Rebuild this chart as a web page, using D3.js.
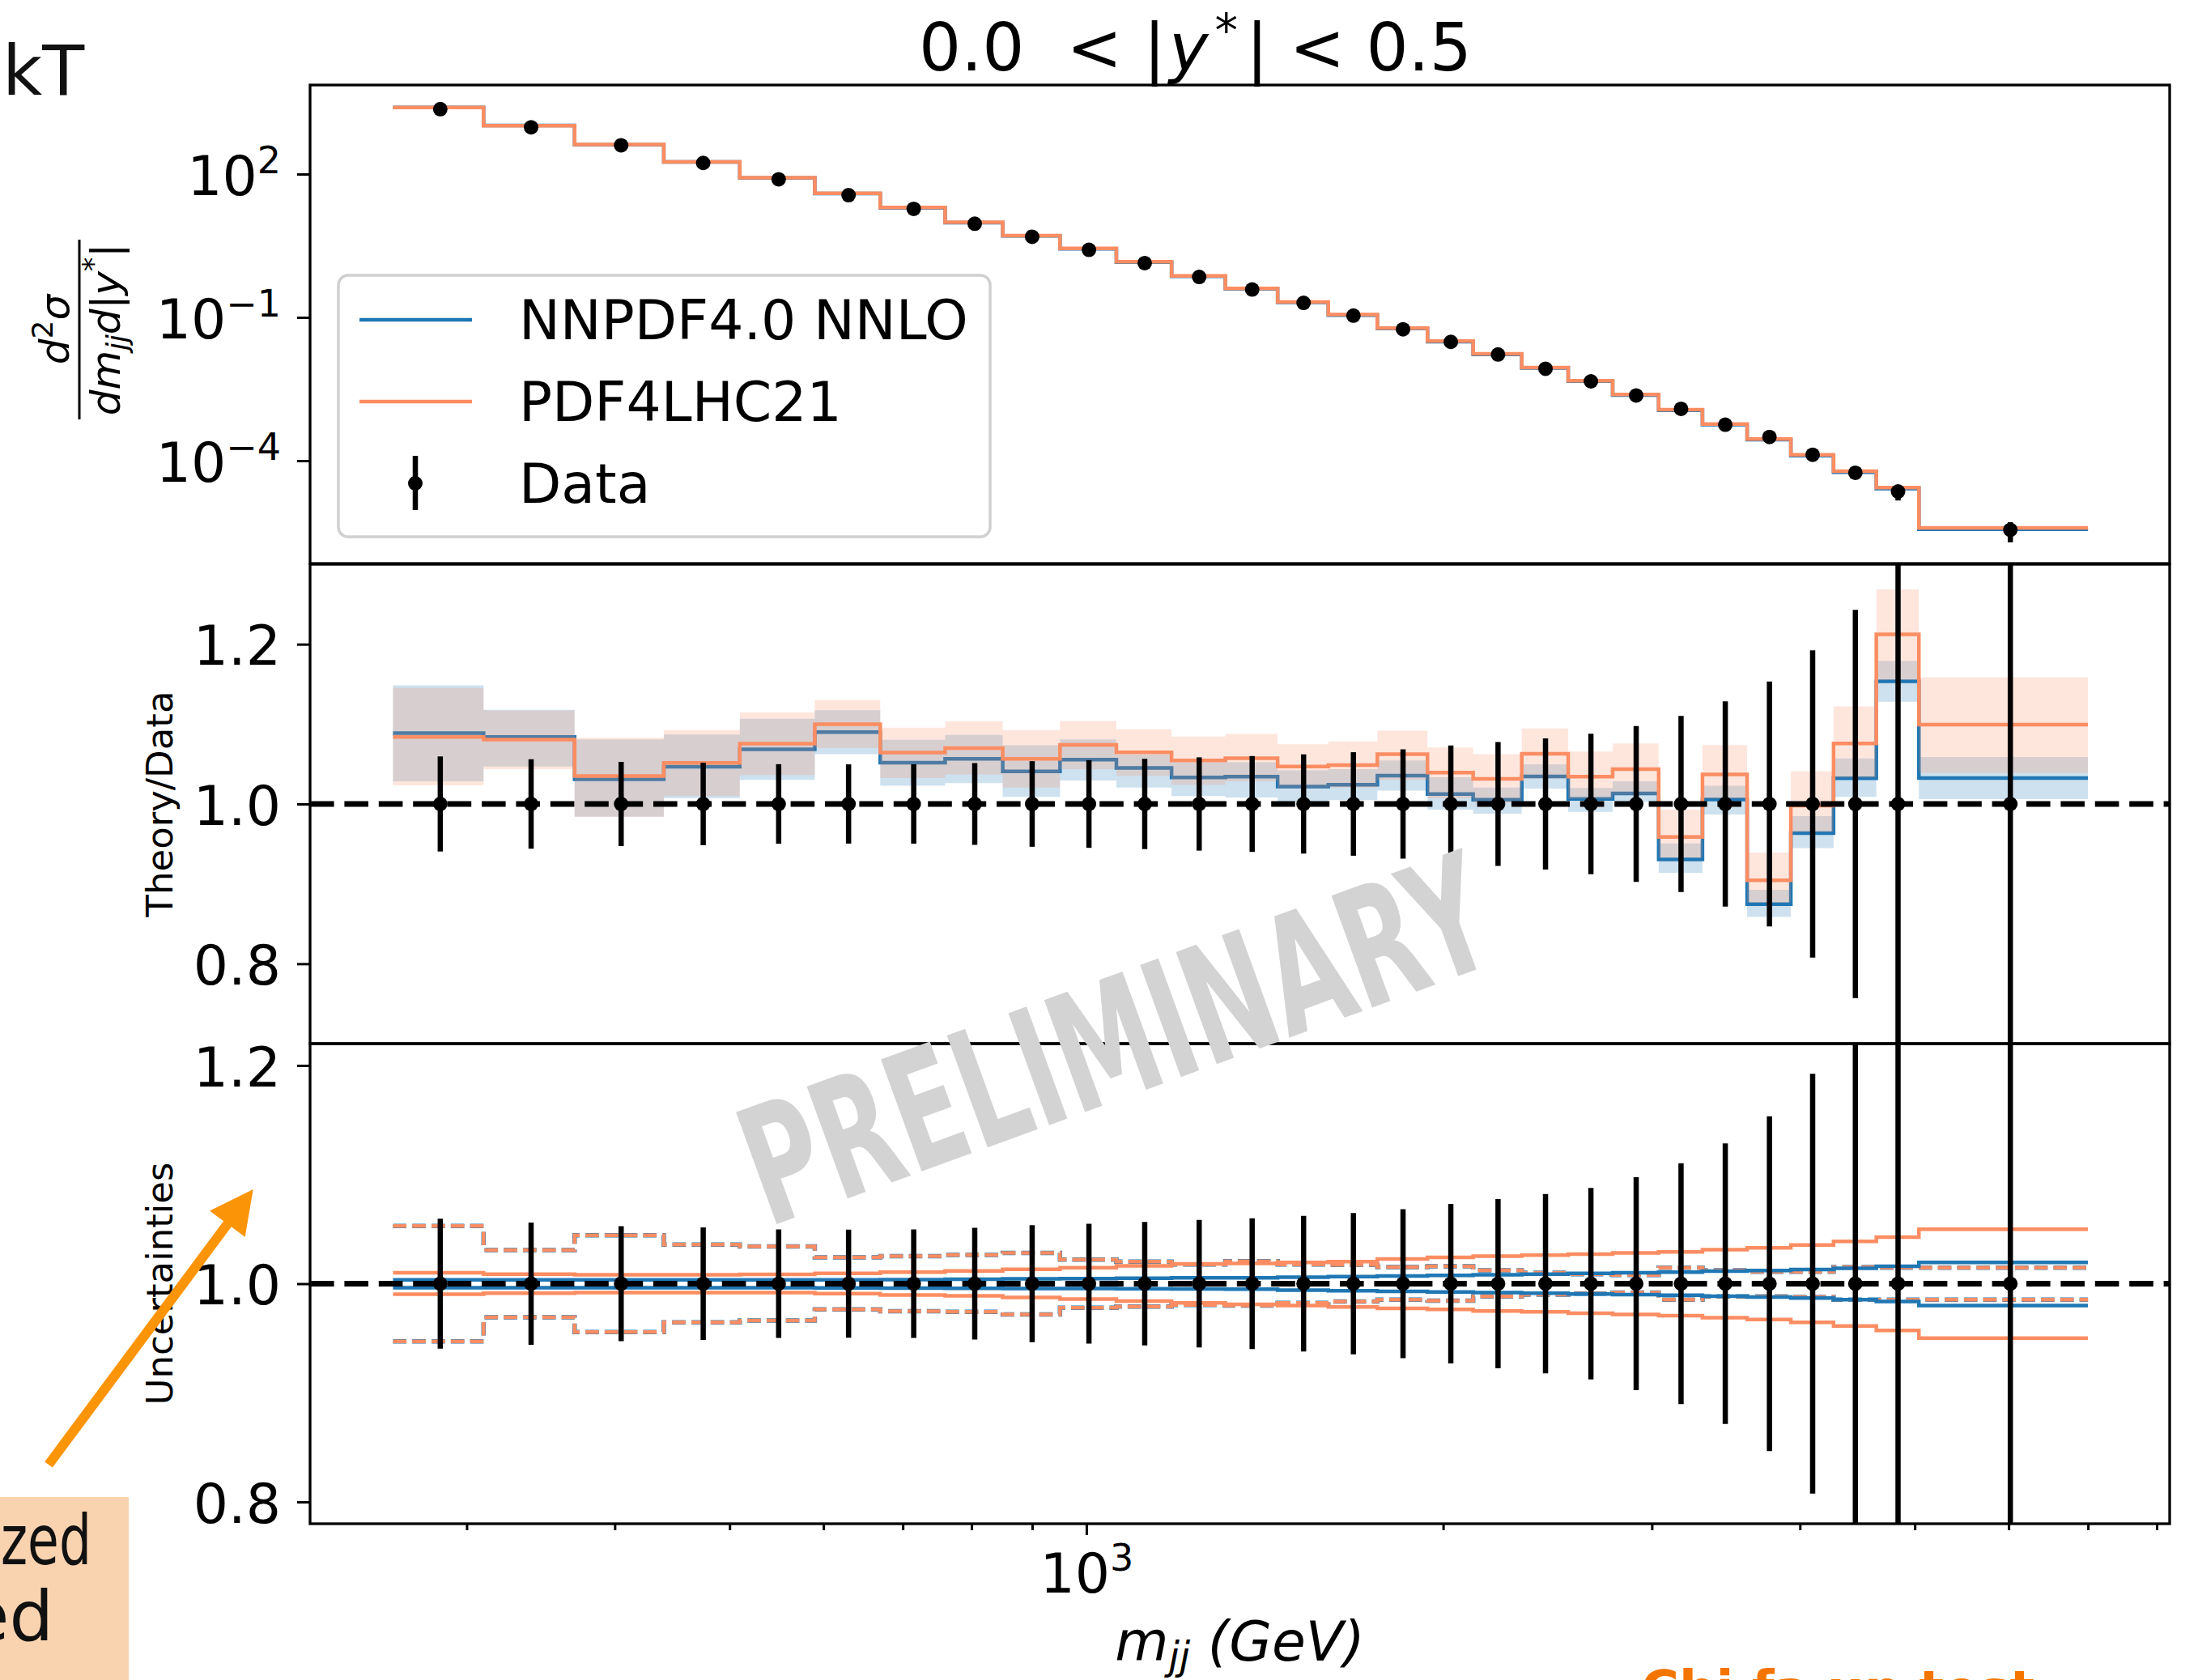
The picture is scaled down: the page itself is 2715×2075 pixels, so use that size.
<!DOCTYPE html>
<html>
<head>
<meta charset="utf-8">
<script src="https://cdn.jsdelivr.net/npm/d3@7"></script>
<style>
  body { margin: 0; background: #fff; }
  svg { display: block; }
  text { font-family: 'DejaVu Sans', sans-serif; }
</style>
</head>
<body>
<svg id="chart"></svg>
<script>
const W = 2715, H = 2075
const BLUE = '#1f77b4', ORANGE = '#fc8d62'

// m_jj bins (GeV), 0.0 < |y*| < 0.5
const mjjEdges = [260, 310, 370, 440, 510, 590, 670, 760, 850, 950, 1060, 1180, 1310, 1450,
  1600, 1760, 1940, 2120, 2330, 2550, 2780, 3040, 3310, 3610, 3930, 4270, 4640, 5040, 7000]
const mjjCenters = [285, 340, 405, 475, 550, 630, 715, 805, 900, 1005, 1120, 1245, 1380, 1525,
  1680, 1850, 2030, 2225, 2440, 2665, 2910, 3175, 3460, 3770, 4100, 4455, 4840, 6020]

// measured cross section and its relative uncertainty
const dataXsec = [2286, 957, 400, 171, 77.8, 36.1, 18.7, 9.14, 4.88, 2.60, 1.37, 0.703, 0.383, 0.201,
  0.109, 0.0564, 0.0307, 0.0167, 0.00841, 0.00458, 0.00232, 0.00122, 0.000566, 0.000314,
  0.000133, 5.58e-5, 2.26e-5, 3.56e-6]
const dataRelErr = [0.0595, 0.056, 0.0527, 0.0516, 0.0498, 0.0496, 0.0497, 0.0512, 0.0536, 0.0549,
  0.0565, 0.0584, 0.060, 0.0621, 0.0648, 0.0683, 0.0731, 0.0775, 0.0822, 0.0878, 0.0976, 0.1103,
  0.1285, 0.1534, 0.1924, 0.243, 0.35, 0.45]

// theory / data
const nnpdfRatio = [1.0887, 1.0839, 1.0308, 1.0467, 1.0684, 1.09, 1.0518, 1.0565, 1.0409, 1.0555,
  1.045, 1.0332, 1.0342, 1.0217, 1.024, 1.0355, 1.0125, 1.0054, 1.0345, 1.0064, 1.0132, 0.9307,
  1.0056, 0.8745, 0.9635, 1.0321, 1.1535, 1.0325]
const nnpdfBandLo = [1.0284, 1.047, 0.9841, 1.0074, 1.0301, 1.0623, 1.0227, 1.0261, 1.0088, 1.0294,
  1.0206, 1.0098, 1.0081, 1.003, 1.0047, 1.0166, 0.9929, 0.9878, 1.0193, 0.9902, 1.003, 0.9138,
  0.9868, 0.8585, 0.9447, 1.0088, 1.1279, 1.006]
const nnpdfBandHi = [1.1486, 1.1178, 1.0809, 1.087, 1.1066, 1.1174, 1.0802, 1.0863, 1.0734, 1.0809,
  1.0619, 1.0521, 1.0521, 1.042, 1.0437, 1.0545, 1.0335, 1.0206, 1.0497, 1.02, 1.0284, 0.9507,
  1.0228, 0.8926, 0.9848, 1.0569, 1.1792, 1.0589]
const pdf4lhcRatio = [1.0838, 1.0805, 1.0349, 1.0514, 1.0755, 1.0998, 1.0643, 1.07, 1.0565, 1.0741,
  1.0646, 1.0545, 1.0572, 1.047, 1.0487, 1.0623, 1.0393, 1.0315, 1.0629, 1.0342, 1.0437, 0.9587,
  1.0369, 0.9046, 0.998, 1.0758, 1.2124, 1.0994]
const pdf4lhcBandLo = [1.0233, 1.0437, 0.9841, 1.0098, 1.0362, 1.07, 1.0325, 1.0369, 1.0206, 1.0437,
  1.0352, 1.024, 1.0284, 1.02, 1.0206, 1.0301, 1.0071, 1.0014, 1.0318, 1.0064, 1.0115, 0.9327,
  1.0068, 0.8766, 0.9647, 1.0329, 1.1551, 1.0389]
const pdf4lhcBandHi = [1.1452, 1.1171, 1.0829, 1.0924, 1.1147, 1.13, 1.0954, 1.1036, 1.0924, 1.1039,
  1.0934, 1.0843, 1.0876, 1.0748, 1.0782, 1.0917, 1.0707, 1.0623, 1.0944, 1.0657, 1.0758, 0.9928,
  1.0737, 0.9391, 1.0409, 1.1222, 1.2685, 1.1587]

// uncertainties panel
const nnpdfUncUp = [1.0035, 1.0035, 1.0035, 1.0035, 1.0035, 1.0035, 1.0038, 1.0041, 1.0044, 1.0047,
  1.005, 1.0053, 1.0053, 1.0059, 1.0065, 1.007, 1.0076, 1.0082, 1.0088, 1.0094, 1.01, 1.0106,
  1.0115, 1.012, 1.0129, 1.0141, 1.0159, 1.0194]
const nnpdfUncDn = [0.9962, 0.9962, 0.9962, 0.9962, 0.9962, 0.9961, 0.996, 0.9958, 0.9956, 0.9955,
  0.9953, 0.9951, 0.995, 0.9941, 0.9935, 0.993, 0.9924, 0.9918, 0.9912, 0.9906, 0.99, 0.9894,
  0.9885, 0.9877, 0.9868, 0.9853, 0.9836, 0.98]
const pdf4lhcUncUp = [1.010, 1.0088, 1.0082, 1.0082, 1.0085, 1.0094, 1.0106, 1.0117, 1.0132, 1.0147,
  1.0164, 1.0182, 1.0185, 1.0194, 1.0203, 1.0226, 1.0241, 1.0253, 1.0261, 1.027, 1.0282, 1.0291,
  1.0311, 1.0329, 1.0355, 1.0388, 1.0426, 1.0499]
const pdf4lhcUncDn = [0.9903, 0.9912, 0.9918, 0.9918, 0.9918, 0.9909, 0.9897, 0.9888, 0.9874, 0.9859,
  0.9841, 0.9824, 0.981, 0.98, 0.9786, 0.9774, 0.9765, 0.975, 0.9742, 0.973, 0.9718, 0.9706,
  0.9689, 0.9671, 0.9645, 0.9612, 0.9571, 0.9501]
const scaleUncUp = [1.0529, 1.0308, 1.0443, 1.0358, 1.0341, 1.0241, 1.0253, 1.0264, 1.0282, 1.022,
  1.0203, 1.0176, 1.0205, 1.0176, 1.0173, 1.0153, 1.0159, 1.0123, 1.01, 1.0088, 1.0079, 1.0147,
  1.0123, 1.0109, 1.0109, 1.0153, 1.0147, 1.0147]
const scaleUncDn = [0.9471, 0.9692, 0.9557, 0.9645, 0.9662, 0.9765, 0.9747, 0.9742, 0.9718, 0.978,
  0.9791, 0.9806, 0.98, 0.9824, 0.9836, 0.9853, 0.9844, 0.9883, 0.99, 0.9909, 0.9918, 0.9853,
  0.9883, 0.9883, 0.9877, 0.9853, 0.9853, 0.9853]

const topTicks = [1e2, 1e-1, 1e-4]
const ratioTicks = [0.8, 1.0, 1.2]
const xMinorTicks = [300, 400, 500, 600, 700, 800, 900, 2000, 3000, 4000, 5000, 6000, 7000, 8000]

// layout
const left = 383, right = 2680
const panelTop = {y0: 105, y1: 696}, panelMid = {y0: 697, y1: 1289}, panelBot = {y0: 1289, y1: 1882}

const x = d3.scaleLog().domain([221.3, 8204]).range([left, right])
const yTop = d3.scaleLog().domain([Math.pow(10, -6.1525), Math.pow(10, 3.8644)]).range([panelTop.y1, panelTop.y0])
const yMid = d3.scaleLinear().domain([0.7, 1.3]).range([panelMid.y1, panelMid.y0])
const yBot = d3.scaleLinear().domain([0.78, 1.22]).range([panelBot.y1, panelBot.y0])

const svg = d3.select('#chart').attr('width', W).attr('height', H)
svg.append('rect').attr('width', W).attr('height', H).attr('fill', '#fff')

const defs = svg.append('defs')
const clip = (id, p) => defs.append('clipPath').attr('id', id)
  .append('rect').attr('x', left).attr('y', p.y0).attr('width', right - left).attr('height', p.y1 - p.y0)
clip('clip-top', panelTop); clip('clip-mid', panelMid); clip('clip-bot', panelBot)

// step helpers (histogram-like, post steps over the bin edges)
const stepPts = vals => mjjEdges.map((e, i) => [e, vals[Math.min(i, vals.length - 1)]])
const stepLine = (vals, ys) => d3.line().curve(d3.curveStepAfter)
  .x(d => x(d[0])).y(d => ys(d[1]))(stepPts(vals))
const stepArea = (lo, hi, ys) => d3.area().curve(d3.curveStepAfter)
  .x(d => x(d[0])).y0(d => ys(d[1])).y1(d => ys(d[2]))(
    mjjEdges.map((e, i) => { const k = Math.min(i, lo.length - 1); return [e, lo[k], hi[k]] }))

const drawStep = (g, vals, ys, color, w, dash) => g.append('path')
  .attr('d', stepLine(vals, ys)).attr('fill', 'none')
  .attr('stroke', color).attr('stroke-width', w)
  .attr('stroke-dasharray', dash || null)

const drawData = (g, ys, centerVals) => {
  g.selectAll(null).data(mjjCenters).enter().append('line')
    .attr('x1', d => x(d)).attr('x2', d => x(d))
    .attr('y1', (d, i) => ys(centerVals[i] * (1 - dataRelErr[i])))
    .attr('y2', (d, i) => ys(centerVals[i] * (1 + dataRelErr[i])))
    .attr('stroke', '#000').attr('stroke-width', 6.5)
  g.selectAll(null).data(mjjCenters).enter().append('circle')
    .attr('cx', d => x(d)).attr('cy', (d, i) => ys(centerVals[i]))
    .attr('r', 9).attr('fill', '#000')
}
const unity = dataXsec.map(() => 1)

const drawUnity = (g, ys) => g.append('line')
  .attr('x1', left).attr('x2', right).attr('y1', ys(1)).attr('y2', ys(1))
  .attr('stroke', '#000').attr('stroke-width', 7).attr('stroke-dasharray', '29.6,12.8')

// ---- top panel: cross sections
const gTop = svg.append('g').attr('clip-path', 'url(#clip-top)')
drawStep(gTop, dataXsec.map((d, i) => d * nnpdfRatio[i]), yTop, BLUE, 4.5)
drawStep(gTop, dataXsec.map((d, i) => d * pdf4lhcRatio[i]), yTop, ORANGE, 4.5)
drawData(gTop, yTop, dataXsec)

// ---- middle panel: theory / data
const gMid = svg.append('g').attr('clip-path', 'url(#clip-mid)')
drawStep(gMid, nnpdfRatio, yMid, BLUE, 4.5)
gMid.append('path').attr('d', stepArea(nnpdfBandLo, nnpdfBandHi, yMid))
  .attr('fill', BLUE).attr('fill-opacity', 0.22)
drawStep(gMid, pdf4lhcRatio, yMid, ORANGE, 4.5)
gMid.append('path').attr('d', stepArea(pdf4lhcBandLo, pdf4lhcBandHi, yMid))
  .attr('fill', ORANGE).attr('fill-opacity', 0.22)
drawUnity(gMid, yMid)
drawData(gMid, yMid, unity)

// ---- bottom panel: uncertainties
const gBot = svg.append('g').attr('clip-path', 'url(#clip-bot)')
drawStep(gBot, scaleUncUp, yBot, BLUE, 5.5, '16.6,7.2')
drawStep(gBot, scaleUncDn, yBot, BLUE, 5.5, '16.6,7.2')
drawStep(gBot, scaleUncUp, yBot, ORANGE, 4.5, '16.6,7.2')
drawStep(gBot, scaleUncDn, yBot, ORANGE, 4.5, '16.6,7.2')
drawStep(gBot, nnpdfUncUp, yBot, BLUE, 4.5)
drawStep(gBot, nnpdfUncDn, yBot, BLUE, 4.5)
drawStep(gBot, pdf4lhcUncUp, yBot, ORANGE, 4.5)
drawStep(gBot, pdf4lhcUncDn, yBot, ORANGE, 4.5)
drawUnity(gBot, yBot)
drawData(gBot, yBot, unity)

// ---- axes
const styleAxis = g => {
  g.select('.domain').remove()
  g.selectAll('.tick line').attr('stroke', '#000').attr('stroke-width', 3)
  g.selectAll('.tick text').attr('font-size', 68).attr('fill', '#000')
    .attr('font-family', "'DejaVu Sans', sans-serif")
}
const supText = (sel, base, exp, baseline) => {
  sel.text(null).attr('dy', null).attr('y', baseline)
  sel.append('tspan').text(base)
  sel.append('tspan').attr('font-size', 46).attr('dy', -27).text(exp)
}

const yTopAxis = svg.append('g').attr('transform', `translate(${left},0)`)
  .call(d3.axisLeft(yTop).tickValues(topTicks).tickSize(16).tickPadding(20))
  .call(styleAxis)
yTopAxis.selectAll('.tick text').each(function (d) {
  const e = Math.round(Math.log10(d))
  supText(d3.select(this), '10', e < 0 ? '\u2212' + (-e) : String(e), 25)
})

svg.append('g').attr('transform', `translate(${left},0)`)
  .call(d3.axisLeft(yMid).tickValues(ratioTicks).tickFormat(d3.format('.1f')).tickSize(16).tickPadding(20))
  .call(styleAxis)
  .selectAll('.tick text').attr('dy', '0.37em')

svg.append('g').attr('transform', `translate(${left},0)`)
  .call(d3.axisLeft(yBot).tickValues(ratioTicks).tickFormat(d3.format('.1f')).tickSize(16).tickPadding(20))
  .call(styleAxis)
  .selectAll('.tick text').attr('dy', '0.37em')

svg.append('g').attr('transform', `translate(0,${panelBot.y1})`)
  .call(d3.axisBottom(x).tickValues(xMinorTicks).tickSize(8).tickFormat(''))
  .call(styleAxis)
const xMajor = svg.append('g').attr('transform', `translate(0,${panelBot.y1})`)
  .call(d3.axisBottom(x).tickValues([1000]).tickSize(14))
  .call(styleAxis)
xMajor.selectAll('.tick text').each(function () {
  supText(d3.select(this), '10', '3', 1967 - panelBot.y1)
})

// spines
;[panelTop, panelMid, panelBot].forEach(p => svg.append('rect')
  .attr('x', left).attr('y', p.y0).attr('width', right - left).attr('height', p.y1 - p.y0)
  .attr('fill', 'none').attr('stroke', '#000').attr('stroke-width', 3.3))

// ---- labels
const title = svg.append('text').attr('x', 1135).attr('y', 87).attr('font-size', 82)
  .attr('xml:space', 'preserve').style('white-space', 'pre')
title.append('tspan').text('0.0  < |')
title.append('tspan').attr('font-style', 'italic').attr('dx', 4).text('y')
title.append('tspan').attr('font-size', 57).attr('dx', 8).attr('dy', -30).text('*')
title.append('tspan').attr('dx', 10).attr('dy', 30).text('| < 0.5')

const xLabel = svg.append('text').attr('x', (left + right) / 2).attr('y', 2051)
  .attr('text-anchor', 'middle').attr('font-size', 68).attr('font-style', 'italic')
  .attr('xml:space', 'preserve').style('white-space', 'pre')
xLabel.append('tspan').text('m')
xLabel.append('tspan').attr('font-size', 48).attr('dy', 11).text('jj')
xLabel.append('tspan').attr('dy', -11).text(' (GeV)')

svg.append('text').attr('transform', `translate(213,${(panelMid.y0 + panelMid.y1) / 2}) rotate(-90)`)
  .attr('text-anchor', 'middle').attr('font-size', 45).text('Theory/Data')
svg.append('text').attr('transform', `translate(213,${(panelBot.y0 + panelBot.y1) / 2}) rotate(-90)`)
  .attr('text-anchor', 'middle').attr('font-size', 45).text('Uncertainties')

// d^2 sigma / (dm_jj d|y*|)
const frac = svg.append('g').attr('transform', 'translate(98,407) rotate(-90)')
frac.append('line').attr('x1', -111).attr('x2', 111).attr('stroke', '#000').attr('stroke-width', 3)
const num = frac.append('text').attr('y', -13).attr('text-anchor', 'middle').attr('font-size', 50)
num.append('tspan').attr('font-style', 'italic').text('d')
num.append('tspan').attr('font-size', 36).attr('dy', -20).text('2')
num.append('tspan').attr('dy', 20).attr('font-style', 'italic').text('σ')
const den = frac.append('text').attr('y', 50).attr('text-anchor', 'middle').attr('font-size', 50)
den.append('tspan').attr('font-style', 'italic').text('dm')
den.append('tspan').attr('font-style', 'italic').attr('font-size', 35).attr('dy', 9).text('jj')
den.append('tspan').attr('dy', -9).attr('font-style', 'italic').text('d')
den.append('tspan').text('|')
den.append('tspan').attr('font-style', 'italic').text('y')
den.append('tspan').attr('font-size', 35).attr('dy', -21).text('*')
den.append('tspan').attr('dy', 21).text('|')

// ---- legend
const legend = svg.append('g')
legend.append('rect').attr('x', 418).attr('y', 340).attr('width', 805).attr('height', 323)
  .attr('rx', 12).attr('fill', '#fff').attr('fill-opacity', 0.8)
  .attr('stroke', '#d0d0d0').attr('stroke-width', 3.5)
const legendItems = [
  {label: 'NNPDF4.0 NNLO', color: BLUE, y: 395},
  {label: 'PDF4LHC21', color: ORANGE, y: 496},
  {label: 'Data', color: '#000', y: 597}
]
legendItems.forEach((it, i) => {
  if (i < 2) {
    legend.append('line').attr('x1', 444).attr('x2', 583).attr('y1', it.y).attr('y2', it.y)
      .attr('stroke', it.color).attr('stroke-width', 4.5)
  } else {
    legend.append('line').attr('x1', 513).attr('x2', 513).attr('y1', it.y - 34).attr('y2', it.y + 33)
      .attr('stroke', '#000').attr('stroke-width', 6.5)
    legend.append('circle').attr('cx', 513).attr('cy', it.y).attr('r', 9).attr('fill', '#000')
  }
  legend.append('text').attr('x', 641).attr('y', it.y + 24).attr('font-size', 68).text(it.label)
})

// ---- watermark
svg.append('text').attr('transform', 'translate(1402,1351) rotate(-20)')
  .attr('text-anchor', 'middle').attr('font-size', 202).attr('font-weight', 'bold')
  .attr('font-family', "'DejaVu Sans Condensed', 'Liberation Sans Narrow', 'DejaVu Sans', sans-serif")
  .attr('textLength', 965).attr('lengthAdjust', 'spacingAndGlyphs')
  .attr('fill', '#d3d3d3').text('PRELIMINARY')

// ---- bits of the surrounding slide
svg.append('text').attr('x', 3).attr('y', 117).attr('font-family', 'Lato, sans-serif')
  .attr('font-size', 85).attr('fill', '#111').text('kT')
svg.append('rect').attr('x', 0).attr('y', 1849).attr('width', 159).attr('height', 226).attr('fill', '#f9d3b0')
svg.append('text').attr('x', 1).attr('y', 1932).attr('textLength', 112).attr('lengthAdjust', 'spacingAndGlyphs')
  .attr('font-family', 'Lato, sans-serif').attr('font-size', 86).attr('fill', '#111').text('zed')
svg.append('text').attr('x', 66).attr('y', 2026).attr('text-anchor', 'end')
  .attr('font-family', 'Lato, sans-serif').attr('font-size', 86).attr('fill', '#111').text('ed')
svg.append('line').attr('x1', 60).attr('y1', 1809).attr('x2', 283).attr('y2', 1509)
  .attr('stroke', '#fb9406').attr('stroke-width', 12)
svg.append('polygon').attr('points', '312.7,1469 259,1495.6 302.7,1527.8').attr('fill', '#fb9406')
svg.append('text').attr('x', 2027).attr('y', 2109).attr('font-family', 'Lato, sans-serif')
  .attr('font-weight', 'bold').attr('font-size', 64).attr('fill', '#f37500').text('Chi fa un test')
</script>
</body>
</html>
